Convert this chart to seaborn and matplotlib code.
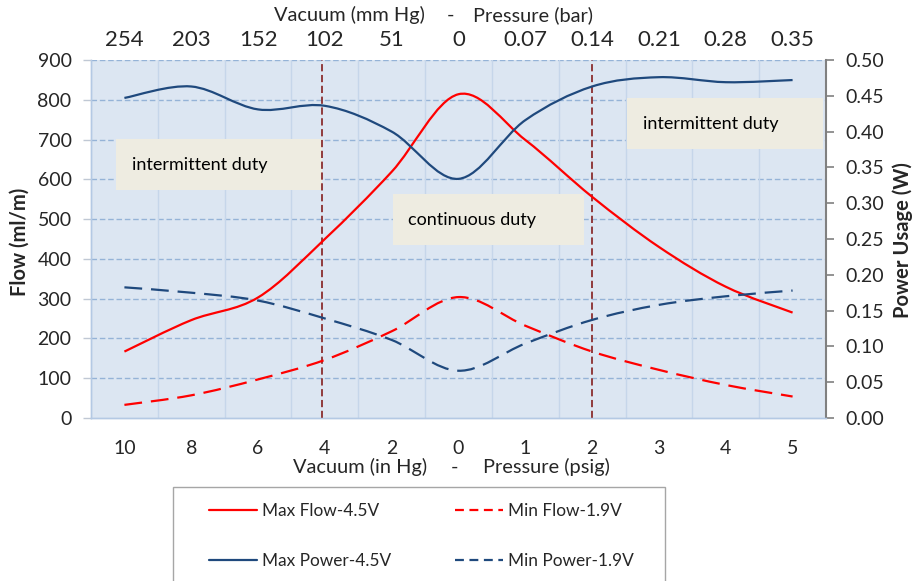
import numpy as np
import matplotlib
matplotlib.use('Agg')
import matplotlib.pyplot as plt
import seaborn as sns
from matplotlib.path import Path
from matplotlib.patches import PathPatch, Rectangle
from matplotlib.lines import Line2D

# ---------------- data ----------------
bottom_labels = ['10', '8', '6', '4', '2', '0', '1', '2', '3', '4', '5']
top_labels = ['254', '203', '152', '102', '51', '0', '0.07', '0.14', '0.21', '0.28', '0.35']
max_flow = [167, 246, 303, 450, 619, 814, 699, 556, 430, 330, 265]
min_flow = [33, 57, 97, 146, 218, 304, 232, 167, 121, 83, 54]
max_power = [0.447, 0.463, 0.431, 0.436, 0.400, 0.334, 0.416, 0.463, 0.476, 0.469, 0.472]
min_power = [0.1825, 0.175, 0.164, 0.139, 0.109, 0.066, 0.104, 0.137, 0.158, 0.170, 0.178]
flow_ticks = list(range(0, 901, 100))
power_ticks = [0.0, 0.05, 0.10, 0.15, 0.20, 0.25, 0.30, 0.35, 0.40, 0.45, 0.50]
duty_limits = [2.96, 7.0]
duty_boxes = [  # label, x0, x1, flow0, flow1, text x
    ('intermittent duty', -0.12, 2.96, 573, 701, 0.12),
    ('continuous duty', 4.02, 6.88, 435, 563, 4.25),
    ('intermittent duty', 7.52, 10.45, 676, 804, 7.76),
]

# ---------------- style ----------------
sns.set_theme(style='white')
plt.rcParams['font.family'] = ['Lato', 'DejaVu Sans']

RED = '#FF0000'
BLUE = '#1F497D'
BG = '#DCE6F2'
GRID = '#95B3D7'
VGRID = '#C6D6EA'

fig = plt.figure(figsize=(9.14, 5.81), dpi=100)
fig.patch.set_facecolor('white')
ax = fig.add_axes([91 / 914, 1 - 418 / 581, (826 - 91) / 914, (418 - 60) / 581])
ax.set_facecolor(BG)
ax2 = ax.twinx()

x = np.arange(len(bottom_labels))


def smooth_path(xs, ys):
    P = np.column_stack([xs, ys]).astype(float)
    n = len(P)
    verts = [P[0]]
    codes = [Path.MOVETO]
    for i in range(n - 1):
        p0 = P[i - 1] if i > 0 else P[i]
        p1 = P[i]
        p2 = P[i + 1]
        p3 = P[i + 2] if i + 2 < n else P[i + 1]
        c1 = p1 + (p2 - p0) / 6.0
        c2 = p2 - (p3 - p1) / 6.0
        verts += [c1, c2, p2]
        codes += [Path.CURVE4] * 3
    return Path(verts, codes)


dash = (0, (8, 4))

ax.set_xlim(-0.5, len(x) - 0.5)
ax.set_ylim(0, 900)
ax2.set_ylim(0, 0.5)

# grid
for v in flow_ticks[1:]:
    ax.axhline(v, color=GRID, lw=1.0, ls=(0, (4, 2)), zorder=1)
for v in np.arange(0.5, len(x) - 1, 1.0):
    ax.axvline(v, color=VGRID, lw=1.0, zorder=1)

# duty boxes
for lab, x0, x1, y0, y1, tx in duty_boxes:
    ax.add_patch(Rectangle((x0, y0), x1 - x0, y1 - y0, facecolor='#EEECE1',
                           edgecolor='none', zorder=2))
    ax.text(tx, (y0 + y1) / 2, lab, fontsize=13, va='center', ha='left',
            color='black', zorder=3)

# duty limit lines
for d in duty_limits:
    ax.axvline(d, color='#8B2E2E', lw=1.3, ls=(0, (4, 2)), zorder=4)

# flow lines
ax.add_patch(PathPatch(smooth_path(x, max_flow), fill=False, edgecolor=RED,
                       lw=1.6, zorder=5))
ax.add_patch(PathPatch(smooth_path(x, min_flow), fill=False, edgecolor=RED,
                       lw=1.6, ls=dash, zorder=5))
# power lines
ax2.add_patch(PathPatch(smooth_path(x, max_power), fill=False, edgecolor=BLUE,
                        lw=1.6, zorder=5))
ax2.add_patch(PathPatch(smooth_path(x, min_power), fill=False, edgecolor=BLUE,
                        lw=1.6, ls=dash, zorder=5))

# axes formatting
ax.set_yticks(flow_ticks)
ax.set_yticklabels([str(v) for v in flow_ticks], fontsize=14)
ax.tick_params(axis='y', which='both', left=True, length=6, width=1,
               color='#C0C8D4', pad=8)
ax.set_xticks(x)
ax.set_xticklabels(bottom_labels, fontsize=14)
ax.tick_params(axis='x', bottom=False, pad=10)

ax2.set_yticks(power_ticks)
ax2.set_yticklabels([f'{v:.2f}' for v in power_ticks], fontsize=14)
ax2.tick_params(axis='y', right=True, length=6, width=1.2, color='#808080', pad=8)

for a in (ax, ax2):
    for s in ('left', 'bottom'):
        a.spines[s].set_color('#B4C9E4')
        a.spines[s].set_linewidth(1.0)
    a.spines['top'].set_visible(False)
    a.spines['right'].set_visible(False)
ax2.spines['right'].set_visible(True)
ax2.spines['right'].set_color('#808080')
ax2.spines['right'].set_linewidth(1.5)

sec = ax.secondary_xaxis('top')
sec.set_xticks(x)
sec.set_xticklabels(top_labels, fontsize=16)
sec.tick_params(top=False, pad=1.5)
sec.spines['top'].set_visible(False)

# axis titles
TS = 14.4
fig.text(425 / 914, 1 - 15 / 581, 'Vacuum (mm Hg)', ha='right', va='center', fontsize=TS)
fig.text(450 / 914, 1 - 15 / 581, '-', ha='center', va='center', fontsize=TS)
fig.text(473 / 914, 1 - 15 / 581, 'Pressure (bar)', ha='left', va='center', fontsize=TS)
fig.text(427 / 914, 1 - 467 / 581, 'Vacuum (in Hg)', ha='right', va='center', fontsize=TS)
fig.text(455 / 914, 1 - 467 / 581, '-', ha='center', va='center', fontsize=TS)
fig.text(483 / 914, 1 - 467 / 581, 'Pressure (psig)', ha='left', va='center', fontsize=TS)
fig.text(20 / 914, 1 - 242 / 581, 'Flow (ml/m)', rotation=90, ha='center', va='center',
         fontsize=14.5, fontweight='bold')
fig.text(903 / 914, 1 - 240 / 581, 'Power Usage (W)', rotation=90, ha='center', va='center',
         fontsize=14.5, fontweight='bold')

# legend
fig.patches.append(Rectangle((173 / 914, -0.1), (665 - 173) / 914, 0.1 + (1 - 487 / 581),
                             transform=fig.transFigure, facecolor='white',
                             edgecolor='#A6A6A6', lw=1.0, zorder=0))
leg_kw = dict(loc='upper left', frameon=False, fontsize=12.4, handlelength=2.8,
              handletextpad=0.3, labelspacing=1.95, borderpad=0, borderaxespad=0)
leg1 = fig.legend([Line2D([], [], color=RED, lw=1.6), Line2D([], [], color=BLUE, lw=1.6)],
                  ['Max Flow-4.5V', 'Max Power-4.5V'],
                  bbox_to_anchor=(209 / 914, 1 - 503 / 581), **leg_kw)
leg2 = fig.legend([Line2D([], [], color=RED, lw=1.6, ls=(0, (4, 2.5))),
                   Line2D([], [], color=BLUE, lw=1.6, ls=(0, (4, 2.5)))],
                  ['Min Flow-1.9V', 'Min Power-1.9V'],
                  bbox_to_anchor=(455 / 914, 1 - 503 / 581), **leg_kw)

fig.savefig('out.png', dpi=100, facecolor='white')
